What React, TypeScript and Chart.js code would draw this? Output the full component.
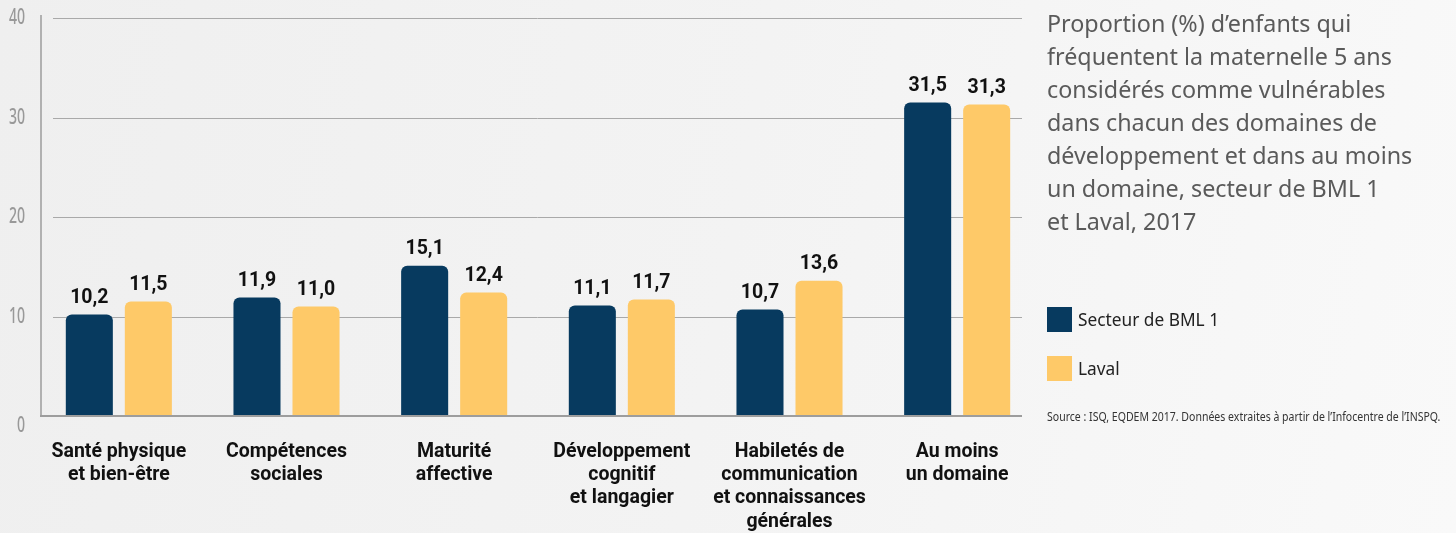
import React, { useEffect, useRef } from "react";
import { Chart, registerables } from "chart.js";

Chart.register(...registerables);

const categories: string[][] = [
  ["Santé physique", "et bien-être"],
  ["Compétences", "sociales"],
  ["Maturité", "affective"],
  ["Développement", "cognitif", "et langagier"],
  ["Habiletés de", "communication", "et connaissances", "générales"],
  ["Au moins", "un domaine"],
];
const bmlValues = [10.2, 11.9, 15.1, 11.1, 10.7, 31.5];
const lavalValues = [11.5, 11.0, 12.4, 11.7, 13.6, 31.3];
const yTicks = [0, 10, 20, 30, 40];
const seriesNames = ["Secteur de BML 1", "Laval"];
const seriesColors = ["#073a5f", "#fec968"];
const titleLines = [
  "Proportion (%) d’enfants qui",
  "fréquentent la maternelle 5 ans",
  "considérés comme vulnérables",
  "dans chacun des domaines de",
  "développement et dans au moins",
  "un domaine, secteur de BML 1",
  "et Laval, 2017",
];
const sourceText =
  "Source : ISQ, EQDEM 2017. Données extraites à partir de l’Infocentre de l’INSPQ.";

const PLAIN = "'Noto Sans', 'DejaVu Sans', sans-serif";
const BOLD = "Roboto, 'Noto Sans', sans-serif";

const fmt = (v: number) => v.toFixed(1).replace(".", ",");

const decorPlugin = {
  id: "decor",
  beforeDatasetsDraw(chart: any) {
    const ctx = chart.ctx;
    const y = chart.scales.y;
    const area = chart.chartArea;
    ctx.save();
    // gridlines
    ctx.strokeStyle = "#a9a9a9";
    ctx.lineWidth = 1;
    yTicks.forEach((t) => {
      if (t === 0) return;
      const py = Math.round(y.getPixelForValue(t)) + 0.5;
      ctx.beginPath();
      ctx.moveTo(53, py);
      ctx.lineTo(1022, py);
      ctx.stroke();
    });
    // y axis line
    ctx.strokeStyle = "#9d9d9d";
    ctx.lineWidth = 1.5;
    ctx.beginPath();
    ctx.moveTo(41, 15);
    ctx.lineTo(41, area.bottom);
    ctx.stroke();
    // tick labels (condensed)
    ctx.fillStyle = "#999999";
    ctx.font = `500 22px ${PLAIN}`;
    ctx.textAlign = "right";
    ctx.textBaseline = "middle";
    yTicks.forEach((t) => {
      let py = y.getPixelForValue(t);
      if (t === 0) py = area.bottom + 10;
      ctx.save();
      ctx.translate(25, py);
      ctx.scale(0.64, 1);
      ctx.fillText(String(t), 0, 0);
      ctx.restore();
    });
    ctx.restore();
  },
  afterDatasetsDraw(chart: any) {
    const ctx = chart.ctx;
    const area = chart.chartArea;
    ctx.save();
    // baseline
    ctx.strokeStyle = "#9d9d9d";
    ctx.lineWidth = 2;
    ctx.beginPath();
    ctx.moveTo(40, area.bottom);
    ctx.lineTo(1022, area.bottom);
    ctx.stroke();
    // value labels
    ctx.fillStyle = "#111111";
    ctx.font = `bold 19.5px ${BOLD}`;
    ctx.textAlign = "center";
    ctx.textBaseline = "alphabetic";
    chart.data.datasets.forEach((ds: any, di: number) => {
      const meta = chart.getDatasetMeta(di);
      meta.data.forEach((bar: any, i: number) => {
        ctx.fillText(fmt(ds.data[i]), bar.x, bar.y - 12);
      });
    });
    ctx.restore();
  },
};

export default function App() {
  const ref = useRef<HTMLCanvasElement | null>(null);

  useEffect(() => {
    if (!ref.current) return;
    const chart = new Chart(ref.current, {
      type: "bar",
      data: {
        labels: categories,
        datasets: [
          {
            label: seriesNames[0],
            data: bmlValues,
            backgroundColor: seriesColors[0],
            borderRadius: { topLeft: 6, topRight: 6, bottomLeft: 0, bottomRight: 0 },
            borderSkipped: false,
            categoryPercentage: 0.704,
            barPercentage: 0.797,
          },
          {
            label: seriesNames[1],
            data: lavalValues,
            backgroundColor: seriesColors[1],
            borderRadius: { topLeft: 6, topRight: 6, bottomLeft: 0, bottomRight: 0 },
            borderSkipped: false,
            categoryPercentage: 0.704,
            barPercentage: 0.797,
          },
        ],
      },
      options: {
        animation: false,
        responsive: false,
        maintainAspectRatio: false,
        layout: { padding: { left: 35, right: 415, top: 18, bottom: 0 } },
        plugins: {
          legend: { display: false },
          tooltip: { enabled: false },
          title: { display: false },
        },
        scales: {
          x: {
            grid: { display: false, drawTicks: false },
            border: { display: false },
            ticks: {
              color: "#111111",
              font: { family: BOLD, size: 19.5, weight: "bold", lineHeight: 1.2 },
              padding: 24,
              maxRotation: 0,
              autoSkip: false,
            },
            afterFit: (scale: any) => {
              scale.height = 117;
            },
          },
          y: {
            display: false,
            min: 0,
            max: 40,
          },
        },
      },
      plugins: [decorPlugin],
    });
    return () => chart.destroy();
  }, []);

  return (
    <div
      style={{
        position: "fixed",
        left: 0,
        top: 0,
        width: 1456,
        height: 533,
        overflow: "hidden",
        background: "linear-gradient(100deg, #efefef 0%, #f3f3f3 50%, #f9f9f9 100%)",
      }}
    >
      <canvas ref={ref} width={1456} height={533} style={{ position: "absolute", left: 0, top: 0 }} />
      <div
        style={{
          position: "absolute",
          left: 1047,
          top: 7,
          fontFamily: PLAIN,
          fontSize: 23.3,
          lineHeight: "33px",
          color: "#5a5a5a",
          whiteSpace: "nowrap",
        }}
      >
        {titleLines.map((l, i) => (
          <div key={i}>{l}</div>
        ))}
      </div>
      {seriesNames.map((n, i) => (
        <div key={n} style={{ position: "absolute", left: 1047, top: 307 + i * 49, height: 25, display: "flex", alignItems: "center" }}>
          <div style={{ width: 25, height: 25, background: seriesColors[i] }} />
          <div
            style={{
              marginLeft: 6,
              fontFamily: PLAIN,
              fontSize: 17.3,
              color: "#222",
              whiteSpace: "nowrap",
            }}
          >
            {n}
          </div>
        </div>
      ))}
      <div
        style={{
          position: "absolute",
          left: 1047,
          top: 407,
          fontFamily: PLAIN,
          fontSize: 13,
          color: "#333",
          whiteSpace: "nowrap",
          transform: "scaleX(0.81)",
          transformOrigin: "left top",
        }}
      >
        {sourceText}
      </div>
    </div>
  );
}
